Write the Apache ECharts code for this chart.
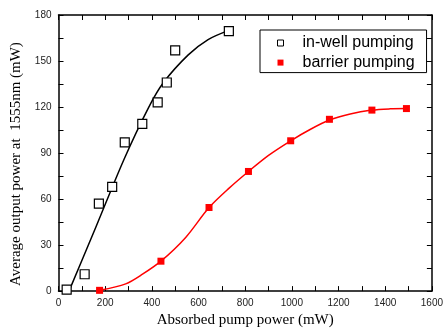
<!DOCTYPE html>
<html>
<head>
<meta charset="utf-8">
<script src="https://cdn.jsdelivr.net/npm/echarts@6/dist/echarts.min.js"></script>
<style>
html,body{margin:0;padding:0;background:#fff;}
#c{width:446px;height:333px;}
</style>
</head>
<body>
<div id="c"></div>
<script>
// Data
var inwellX = [35, 112, 173, 230, 284, 359, 425, 464, 500, 730];
var inwellY = [1, 11, 57, 68, 97, 109, 123, 136, 157, 169.5];
var barrierX = [176, 439, 645, 814, 995, 1161, 1343, 1491];
var barrierY = [0.5, 19.5, 54.5, 78, 98, 112, 118, 119];
var inwellFitX = [45, 150, 281, 387, 450, 556, 641, 730];
var inwellFitY = [0, 38, 86, 120, 136, 154, 164, 170];
var barrierFitX = [176, 288, 360, 439, 545, 645, 730, 814, 900, 995, 1080, 1161, 1250, 1343, 1420, 1491];
var barrierFitY = [0.5, 4.7, 11, 19.5, 35, 54.5, 67, 78, 88.5, 98, 105.5, 111.5, 115.5, 118, 118.8, 119];
var seriesNames = ['in-well pumping', 'barrier pumping'];
var xTitle = 'Absorbed pump power (mW)';
var yTitle = 'Average output power at  1555nm (mW)';

function pairs(xs, ys) { return xs.map(function (x, i) { return [x, ys[i]]; }); }
function plain(v) { return String(v); }

var chart = echarts.init(document.getElementById('c'), null, { renderer: 'canvas' });

function xAxisDef(pos, show) {
  return {
    type: 'value', position: pos, min: 0, max: 1600, interval: 200,
    axisLine: { show: true, onZero: false, lineStyle: { color: '#000', width: 1.5 } },
    axisTick: { show: true, inside: true, length: 5, lineStyle: { color: '#000', width: 1 } },
    minorTick: { show: true, splitNumber: 2, length: 5, lineStyle: { color: '#000', width: 1 } },
    splitLine: { show: false },
    axisLabel: { show: show, formatter: plain, fontFamily: 'Liberation Sans', fontSize: 10, color: '#222', margin: 7 },
    name: show ? xTitle : '', nameLocation: 'middle', nameGap: 18,
    nameTextStyle: { fontFamily: 'Liberation Serif', fontSize: 15, color: '#000' }
  };
}
function yAxisDef(pos, show) {
  return {
    type: 'value', position: pos, min: 0, max: 180, interval: 30,
    axisLine: { show: true, onZero: false, lineStyle: { color: '#000', width: 1.5 } },
    axisTick: { show: true, inside: true, length: 5, lineStyle: { color: '#000', width: 1 } },
    minorTick: { show: true, splitNumber: 2, length: 5, lineStyle: { color: '#000', width: 1 } },
    splitLine: { show: false },
    axisLabel: { show: show, formatter: plain, fontFamily: 'Liberation Sans', fontSize: 10, color: '#222', margin: 7 },
    name: show ? yTitle : '', nameLocation: 'middle', nameGap: 30,
    nameTextStyle: { fontFamily: 'Liberation Serif', fontSize: 15, color: '#000', padding: [0, 22, 0, 0] }
  };
}

chart.setOption({
  animation: false,
  backgroundColor: '#fff',
  grid: { left: 58.5, right: 9.5, top: 15, bottom: 39.5, containLabel: false },
  xAxis: [xAxisDef('bottom', true), xAxisDef('top', false)],
  yAxis: [yAxisDef('left', true), yAxisDef('right', false)],
  legend: {
    data: [
      { name: seriesNames[0], icon: 'rect', itemStyle: { color: '#fff', borderColor: '#000', borderWidth: 1 } },
      { name: seriesNames[1], icon: 'rect' }
    ],
    orient: 'vertical', left: 260, top: 30,
    padding: [5, 12, 2, 17],
    itemWidth: 6, itemHeight: 6, itemGap: 3.6,
    borderColor: '#000', borderWidth: 1, backgroundColor: '#fff',
    textStyle: { fontFamily: 'Liberation Sans', fontSize: 16, color: '#000', lineHeight: 16, padding: [0, 0, 0, 14] }
  },
  series: [
    {
      name: 'in-well fit', type: 'line', data: pairs(inwellFitX, inwellFitY), smooth: 0.3,
      showSymbol: false, lineStyle: { color: '#000', width: 1.5 }, z: 2, silent: true
    },
    {
      name: 'barrier fit', type: 'line', data: pairs(barrierFitX, barrierFitY), smooth: 0.3,
      showSymbol: false, lineStyle: { color: '#ff0000', width: 1.5 }, z: 2, silent: true
    },
    {
      name: seriesNames[0], type: 'scatter', data: pairs(inwellX, inwellY), symbol: 'rect', symbolSize: 9,
      itemStyle: { color: '#fff', borderColor: '#000', borderWidth: 1.2, opacity: 1 }, z: 3
    },
    {
      name: seriesNames[1], type: 'scatter', data: pairs(barrierX, barrierY), symbol: 'rect', symbolSize: 7,
      itemStyle: { color: '#ff0000', opacity: 1 }, z: 3
    }
  ]
});
</script>
</body>
</html>
